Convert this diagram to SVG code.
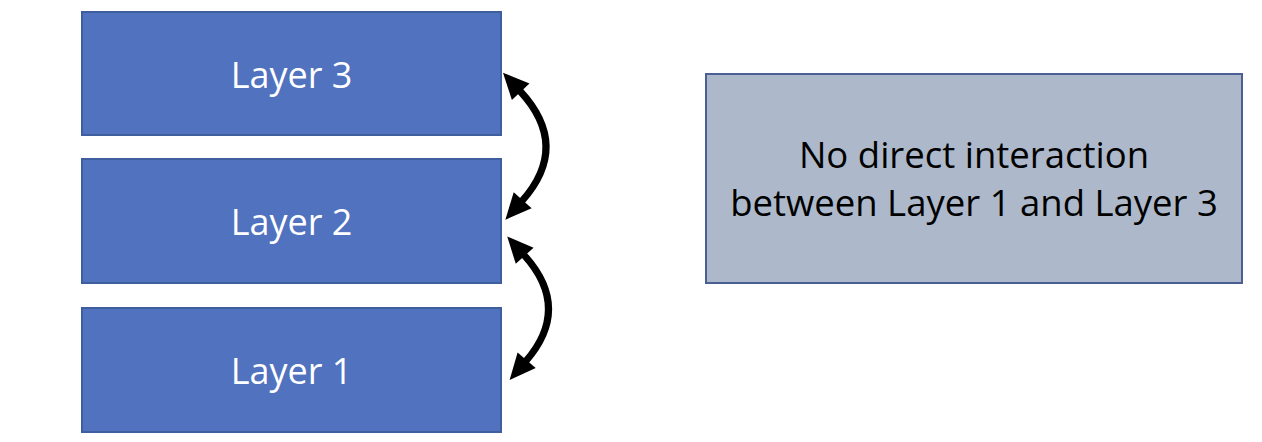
<svg xmlns="http://www.w3.org/2000/svg" width="1262" height="442" viewBox="0 0 1262 442">
<style>
.layer{fill:#5072BF;stroke:#3F5E9E;stroke-width:2}
.ltext{font-family:"Open Sans","Liberation Sans",sans-serif;font-size:36px;fill:#ffffff;text-anchor:middle}
.note{fill:#ADB9CA;stroke:#4A6095;stroke-width:2}
.ntext{font-family:"Open Sans","Liberation Sans",sans-serif;font-size:36.5px;fill:#000000;text-anchor:middle}
.conn{fill:none;stroke:#000;stroke-width:7}
</style>
<defs>
<marker id="ah" markerUnits="userSpaceOnUse" viewBox="-2 -13 30 26" markerWidth="30" markerHeight="26" refX="0" refY="0" orient="auto-start-reverse">
<path d="M-1,-12 L25,0 L-1,12 z" fill="#000"/>
</marker>
</defs>
<rect width="1262" height="442" fill="#ffffff"/>
<g id="layer3"><rect class="layer" x="82" y="12" width="419" height="123"/><text class="ltext" x="291.5" y="88">Layer 3</text></g>
<g id="layer2"><rect class="layer" x="82" y="159" width="419" height="124"/><text class="ltext" x="291.5" y="235">Layer 2</text></g>
<g id="layer1"><rect class="layer" x="82" y="308" width="419" height="124"/><text class="ltext" x="291.5" y="384">Layer 1</text></g>
<g id="note"><rect class="note" x="706" y="74" width="536" height="209"/><text class="ntext" x="974" y="168">No direct interaction</text><text class="ntext" x="974" y="216">between Layer 1 and Layer 3</text></g>
<g id="connectors">
<path class="conn" d="M520,91 Q571,146 522,201" marker-start="url(#ah)" marker-end="url(#ah)"/>
<path class="conn" d="M524,255 Q572,308 526,361" marker-start="url(#ah)" marker-end="url(#ah)"/>
</g>
</svg>
